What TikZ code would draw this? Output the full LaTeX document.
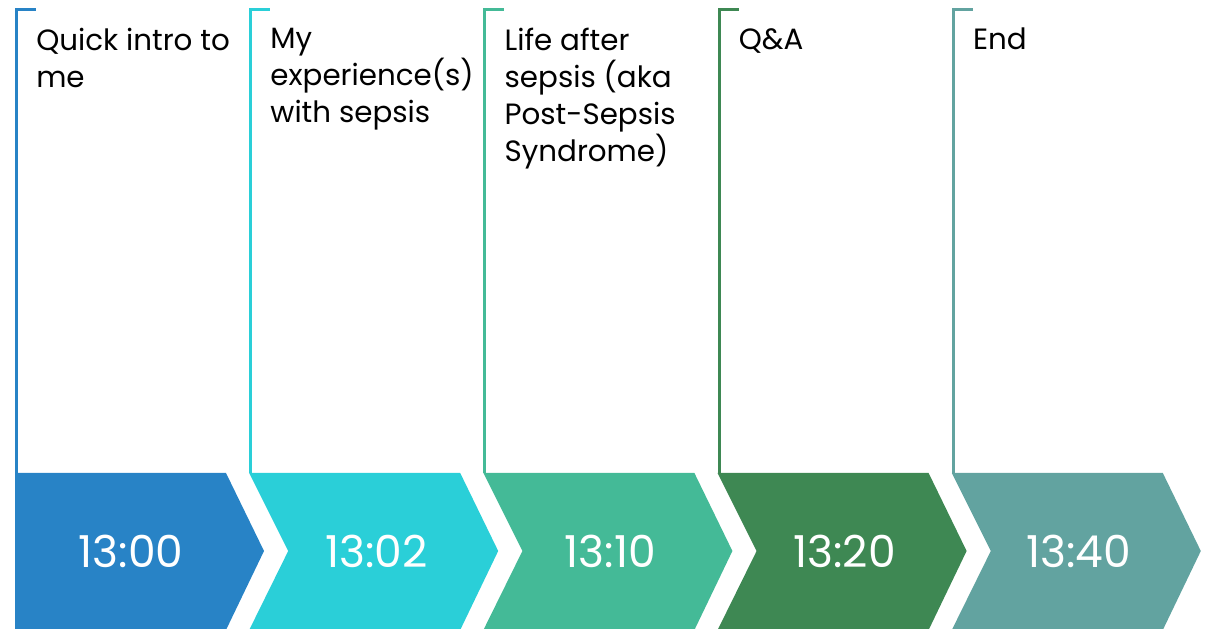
\documentclass[tikz,border=0pt]{standalone}
\usepackage{fontspec}
\setmainfont{Poppins}
\usetikzlibrary{positioning}

\definecolor{stepA}{HTML}{2883C6}
\definecolor{stepB}{HTML}{2ACFD8}
\definecolor{stepC}{HTML}{44BA97}
\definecolor{stepD}{HTML}{3E8853}
\definecolor{stepE}{HTML}{62A3A0}

\tikzset{
  chev/.style={fill=#1, draw=none},
  bracket/.style={draw=#1, line width=2.25pt},
  topic/.style={anchor=north west, align=left, inner sep=0pt,
    font=\fontsize{22}{27.75}\selectfont},
  stamp/.style={text=white, inner sep=0pt, font=\fontsize{33}{38}\selectfont},
}

\begin{document}
\begin{tikzpicture}[x=0.75pt,y=0.75pt]
  \useasboundingbox (0,0) rectangle (1205,628);

  % one chevron, bracket and topic per slot
  \foreach \i/\col/\hour/\txt in {
      0/stepA/13:00/{Quick intro to\\me},
      1/stepB/13:02/{My\\experience(s)\\with sepsis},
      2/stepC/13:10/{Life after\\sepsis (aka\\Post-Sepsis\\Syndrome)},
      3/stepD/13:20/{Q\&A},
      4/stepE/13:40/{End}} {
    \pgfmathsetmacro\L{15+234.2*\i}
    \pgfmathsetmacro\N{\i==0 ? 0 : 39}
    \pgfmathsetmacro\C{\i==0 ? 116 : 127}

    % arrow block
    \fill[chev=\col] (\L,155) -- (\L+211,155) -- (\L+249,77)
      -- (\L+211,-2) -- (\L,-2) -- (\L+\N,77) -- cycle;
    \node[stamp] (time\i) at (\L+\C,77) {\hour};

    % bracket line up to the topic
    \coordinate (foot\i) at (\L+1.5,155);
    \coordinate (hook\i) at (\L+21,618.5);
    \draw[bracket=\col] (foot\i) |- (hook\i);
    \node[topic] (topic\i) at (\L+21,600) {\txt};
  }
\end{tikzpicture}
\end{document}
